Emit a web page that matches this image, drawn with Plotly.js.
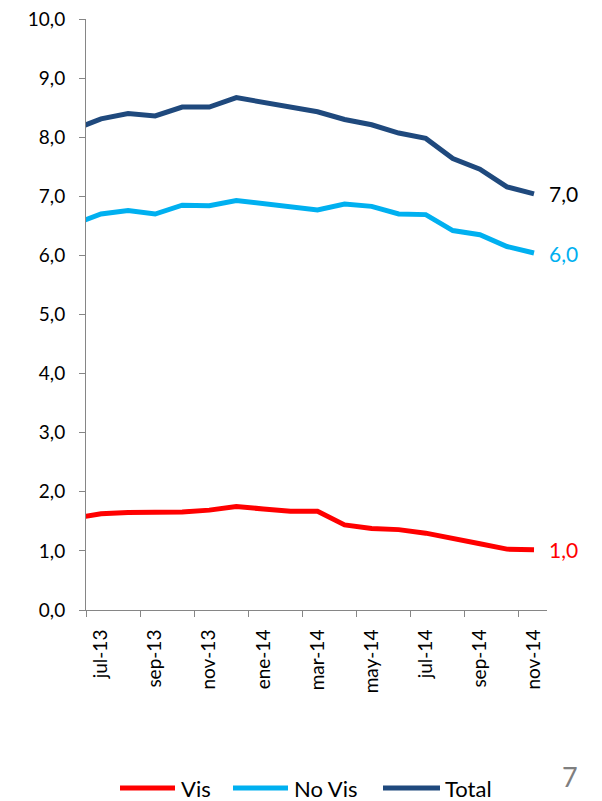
<!DOCTYPE html>
<html>
<head>
<meta charset="utf-8">
<script src="https://cdn.plot.ly/plotly-3.0.1.min.js"></script>
<style>html,body{margin:0;padding:0;background:#fff}#chart{width:602px;height:801px}</style>
</head>
<body>
<div id="chart"></div>
<script>
var months = ['jun-13','jul-13','ago-13','sep-13','oct-13','nov-13','dic-13','ene-14','feb-14','mar-14','abr-14','may-14','jun-14','jul-14','ago-14','sep-14','oct-14','nov-14'];
var vis    = [1.55,1.63,1.65,1.65,1.66,1.69,1.75,1.71,1.67,1.67,1.44,1.38,1.36,1.30,1.22,1.12,1.03,1.02];
var noVis  = [6.53,6.70,6.76,6.70,6.85,6.84,6.93,6.87,6.83,6.77,6.87,6.83,6.70,6.69,6.42,6.35,6.15,6.04];
var total  = [8.13,8.31,8.40,8.36,8.51,8.51,8.67,8.59,8.49,8.43,8.30,8.21,8.07,7.98,7.64,7.46,7.16,7.04];
var seriesNames = ['Vis','No Vis','Total'];
var colors = ['#ff0000','#00b0f0','#1f497d'];
var labelColors = ['#ff0000','#00b0f0','#000000'];

var FONT = 'Lato, Carlito, sans-serif';
var xIdx = months.map(function(m,i){return i;});
var series = [vis, noVis, total];
var traces = series.map(function(s,k){
  return {x:xIdx, y:s, type:'scatter', mode:'lines', name:seriesNames[k],
    line:{color:colors[k], width:5}, showlegend:false};
});

// tick labels: every other month starting at jul-13
var tickPos = [], tickTxt = [];
for (var i=1;i<months.length;i+=2){ tickPos.push(i-0.555); tickTxt.push(months[i]); }

var ann = series.map(function(s,k){
  var last = s[s.length-1];
  return {x:xIdx[xIdx.length-1], y:last, xref:'x', yref:'y', text:last.toFixed(1).replace('.',','),
    showarrow:false, xanchor:'left', yanchor:'middle', xshift:13,
    font:{family:FONT, size:21, color:labelColors[k]}};
});
// page number
ann.push({x:(570-86)/461, y:(610-776)/591, xref:'paper', yref:'paper', text:'7', showarrow:false,
  xanchor:'center', yanchor:'middle', font:{family:FONT, size:27, color:'#7f7f7f'}});

// manual legend (page pixel helpers)
function px(x){return (x-86)/461;}
function py(y){return (610-y)/591;}
var shapes = [];
var legLine = [[120,175],[233,288],[383,440]];
var legText = [179,292,443];
for (var k=0;k<3;k++){
  shapes.push({type:'line', xref:'paper', yref:'paper', x0:px(legLine[k][0]), x1:px(legLine[k][1]),
    y0:py(788), y1:py(788), line:{color:colors[k], width:5}});
  ann.push({x:px(legText[k]), y:py(788), xref:'paper', yref:'paper', text:seriesNames[k], showarrow:false,
    xanchor:'left', yanchor:'middle', font:{family:FONT, size:22, color:'#000'}});
}

var layout = {
  width:602, height:801,
  margin:{l:86, r:55, t:19, b:191, autoexpand:false},
  separators:',.',
  paper_bgcolor:'#fff', plot_bgcolor:'#fff',
  showlegend:false,
  font:{family:FONT, color:'#000'},
  xaxis:{type:'linear', range:[0.445, 17.48], tickmode:'array', tickvals:tickPos, ticktext:tickTxt,
    ticks:'outside', ticklen:6, tickcolor:'#868686', tickangle:-90, ticklabelshift:15, ticklabelstandoff:5,
    showline:true, linecolor:'#868686', linewidth:1, showgrid:false, zeroline:false,
    tickfont:{size:19, color:'#000'}, fixedrange:true},
  yaxis:{range:[0,10], dtick:1, tickformat:'.1f', ticks:'outside', ticklen:6, tickcolor:'#868686', ticklabelstandoff:10,
    showline:true, linecolor:'#868686', linewidth:1, showgrid:false, zeroline:false,
    tickfont:{size:19, color:'#000'}, fixedrange:true},
  annotations:ann,
  shapes:shapes
};
Plotly.newPlot('chart', traces, layout, {displayModeBar:false, staticPlot:true});
</script>
</body>
</html>
